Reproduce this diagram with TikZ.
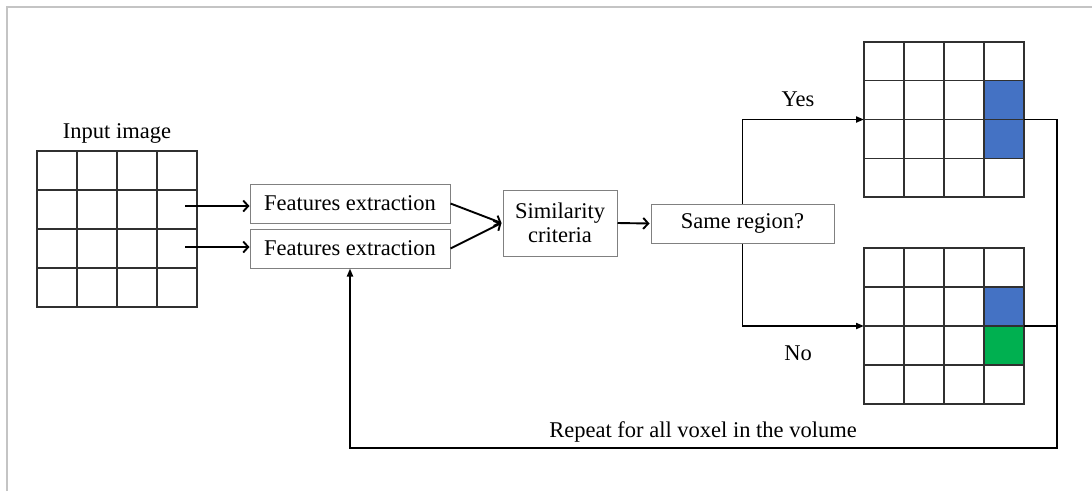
\documentclass[tikz,border=0pt]{standalone}
\usepackage{fontspec}
\setmainfont{Liberation Serif}
\usetikzlibrary{arrows.meta,calc}
\definecolor{framec}{HTML}{C4C4C4}
\definecolor{boxc}{HTML}{808080}
\definecolor{gridc}{HTML}{303030}
\definecolor{cblue}{HTML}{4472C4}
\definecolor{cgreen}{HTML}{00B050}
\tikzset{
  fs/.style={font=\fontsize{22.5}{25}\selectfont},
  procbox/.style={draw=boxc, line width=1pt, fill=white, inner sep=0pt, fs, align=center},
  gridbox/.style={draw=gridc, line width=1.3pt, minimum width=160pt, minimum height=156pt, inner sep=0pt, outer sep=0pt},
  gline/.style={draw=gridc, line width=1.3pt},
  oarr/.style={line width=1.9pt, -{Straight Barb[length=5pt,width=11pt,line width=1.9pt]}},
  tarr/.style={line width=1.9pt, -{Triangle[length=8pt,width=6pt]}},
  conn/.style={line width=1.9pt},
  lbl/.style={fs, inner sep=0pt}
}
\begin{document}
\begin{tikzpicture}[x=1pt,y=-1pt]
\useasboundingbox (0,0) rectangle (1092,491);
\draw[framec, line width=2.5pt] (7,491) -- (7,7) -- (1092,7);

% input grid
\node[gridbox] (in) at (117,229) {};
\foreach \i in {1,2,3} {
  \draw[gline] ($(in.north west)!\i/4!(in.north east)$) -- ($(in.south west)!\i/4!(in.south east)$);
  \draw[gline] ($(in.north west)!\i/4!(in.south west)$) -- ($(in.north east)!\i/4!(in.south east)$);
}
\node[lbl] (inlbl) at (117,133) {Input image};

% feature boxes
\node[procbox, minimum width=200pt, minimum height=39pt] (fe1) at (350,203.5) {Features extraction};
\node[procbox, minimum width=200pt, minimum height=39pt] (fe2) at (350,248.5) {Features extraction};
\node[procbox, minimum width=114pt, minimum height=66pt] (sim) at (560,223) {Similarity\\[-1pt]criteria};
\node[procbox, minimum width=183pt, minimum height=39pt] (sr) at (742.5,223.5) {Same region?};

% output grids
\node[gridbox, minimum height=155pt] (up) at (944,119.5) {};
\fill[cblue] ($(up.north west)+(120,39)$) rectangle ($(up.north west)+(160,117)$);
\node[gridbox] (low) at (944,326) {};
\fill[cblue] ($(low.north west)+(120,39)$) rectangle ($(low.north west)+(160,78)$);
\fill[cgreen] ($(low.north west)+(120,78)$) rectangle ($(low.north west)+(160,117)$);
\foreach \g in {up,low} {
  \draw[gline] (\g.north west) rectangle (\g.south east);
  \foreach \i in {1,2,3} {
    \draw[gline] ($(\g.north west)!\i/4!(\g.north east)$) -- ($(\g.south west)!\i/4!(\g.south east)$);
    \draw[gline] ($(\g.north west)!\i/4!(\g.south west)$) -- ($(\g.north east)!\i/4!(\g.south east)$);
  }
}

% connectors
\draw[oarr] ([xshift=-12pt]in.east |- 0,206) -- (fe1.west |- 0,206);
\draw[oarr] ([xshift=-12pt]in.east |- 0,247) -- (fe2.west |- 0,247);
\draw[oarr] (fe1.east) -- ([xshift=-1pt]sim.west);
\draw[oarr] (fe2.east) -- ([xshift=-1pt]sim.west);
\draw[oarr] (sim.east) -- ([xshift=-1pt]sr.west);
\draw[tarr] (sr.north) |- (up.west);
\draw[tarr] (sr.south) |- (low.west);
\node[lbl] (yes) at (798,99) {Yes};
\node[lbl] (no) at (798,353) {No};

\coordinate (rc) at (1057,448);
\draw[conn] (low.east) -- (low.east -| rc);
\draw[tarr] (up.east) -| (rc) -| (fe2.south);
\node[lbl] (rep) at (703,432) {Repeat for all voxel in the volume};
\end{tikzpicture}
\end{document}
